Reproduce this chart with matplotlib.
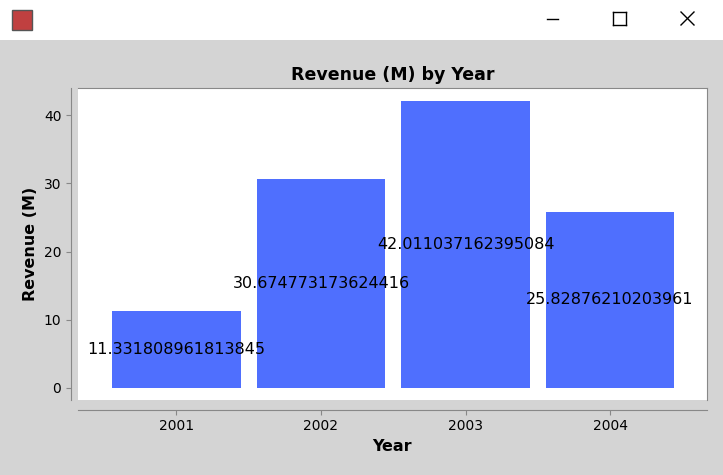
import matplotlib
matplotlib.use("Agg")
import matplotlib.pyplot as plt
from matplotlib.patches import Rectangle
from matplotlib.lines import Line2D

years = ["2001", "2002", "2003", "2004"]
revenue = [11.331808961813845, 30.674773173624416, 42.011037162395084, 25.82876210203961]

W, H = 723, 475
fig = plt.figure(figsize=(W / 100, H / 100), dpi=100)
fig.patch.set_facecolor("#d4d4d4")

# window title bar
fig.patches.append(Rectangle((0, 1 - 40 / H), 1, 40 / H, transform=fig.transFigure,
                             facecolor="white", edgecolor="none", zorder=0))
fig.patches.append(Rectangle((12 / W, 1 - 30 / H), 20 / W, 20 / H, transform=fig.transFigure,
                             facecolor="#c04040", edgecolor="#555555", zorder=1))
def px_line(x0, y0, x1, y1):
    fig.add_artist(Line2D([x0 / W, x1 / W], [1 - y0 / H, 1 - y1 / H], color="black", lw=1))
px_line(547, 19, 558, 19)
for a, b, c, d in [(613, 12, 626, 12), (626, 12, 626, 25), (626, 25, 613, 25), (613, 25, 613, 12)]:
    px_line(a, b, c, d)
px_line(681, 12, 694, 25)
px_line(694, 12, 681, 25)

ax = fig.add_axes([78 / W, 75 / H, 629 / W, 312 / H])
ax.set_facecolor("white")
x = range(len(years))
ax.bar(x, revenue, width=0.89, color="#4f6ffe")
for i, v in enumerate(revenue):
    ax.text(i, v / 2, str(v), ha="center", va="center", fontsize=11.5, color="black")

ax.set_xlim(-0.68, 3.67)
ax.set_ylim(-1.76, 43.96)
ax.set_xticks(list(x))
ax.set_xticklabels(years, fontweight="bold", fontsize=11)
ax.set_yticks([0, 10, 20, 30, 40])
for t in ax.get_yticklabels():
    t.set_fontweight("bold")
    t.set_fontsize(11)
for s in ["top", "right"]:
    ax.spines[s].set_color("#888888")
ax.spines["left"].set_position(("outward", 5))
ax.spines["bottom"].set_position(("outward", 7))
ax.spines["left"].set_color("#888888")
ax.spines["bottom"].set_color("#888888")
ax.tick_params(colors="#888888", labelcolor="black")
ax.set_title("Revenue (M) by Year", fontweight="bold", fontsize=12.5, pad=6)
ax.set_xlabel("Year", fontweight="bold", fontsize=11.5)
ax.set_ylabel("Revenue (M)", fontweight="bold", fontsize=11.5)

fig.savefig("out.png", dpi=100, facecolor=fig.get_facecolor())
